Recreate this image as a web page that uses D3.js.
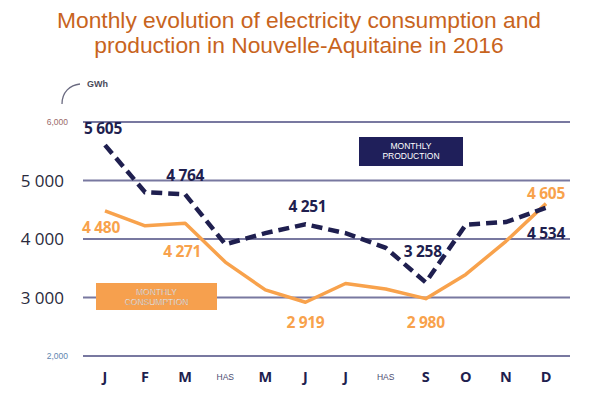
<!DOCTYPE html>
<html><head><meta charset="utf-8">
<script src="https://cdn.jsdelivr.net/npm/d3@7"></script>
<style>body{margin:0;background:#fff;}svg{display:block;}</style>
</head><body>
<svg id="c" width="597" height="398"></svg>
<script>
const months = ["J","F","M","HAS","M","J","J","HAS","S","O","N","D"];
const production = [5605, 4800, 4764, 3910, 4100, 4251, 4100, 3850, 3258, 4245, 4290, 4534];
const consumption = [4480, 4225, 4271, 3605, 3130, 2919, 3240, 3145, 2980, 3395, 3960, 4605];
const yTicks = [6000, 5000, 4000, 3000, 2000];
const yTickLabels = ["6,000", "5 000", "4 000", "3 000", "2,000"];
const prodLabels = [[0,"5 605"],[2,"4 764"],[5,"4 251"],[8,"3 258"],[11,"4 534"]];
const consLabels = [[0,"4 480"],[2,"4 271"],[5,"2 919"],[8,"2 980"],[11,"4 605"]];
const title = ["Monthly evolution of electricity consumption and", "production in Nouvelle-Aquitaine in 2016"];

const navy = "#1f1f4f", orange = "#f8a24c";
const svg = d3.select("#c");
const x = d3.scalePoint().domain(d3.range(12)).range([105, 546]);
const y = d3.scaleLinear().domain([2000, 6000]).range([356, 122]);

// title
svg.selectAll("text.title").data(title).join("text")
  .attr("x", 299).attr("y", (d,i) => 28 + i*25)
  .attr("text-anchor", "middle")
  .attr("font-family", "Liberation Sans, Arial, sans-serif")
  .attr("font-size", 22.8).attr("fill", "#c8641d").text(d => d);

// grid
svg.append("g").selectAll("line").data(yTicks).join("line")
  .attr("x1", 83).attr("x2", 570)
  .attr("y1", d => y(d)).attr("y2", d => y(d))
  .attr("stroke", "#7878a0").attr("stroke-width", 1.8);

// y labels
svg.append("g").selectAll("text").data(yTicks).join("text")
  .attr("x", (d,i) => (i===0||i===4) ? 68 : 64)
  .attr("y", d => y(d) + ((d===6000||d===2000) ? 3 : 6))
  .attr("text-anchor", "end")
  .attr("font-family", (d) => (d===6000||d===2000) ? "Liberation Sans, Arial, sans-serif" : "Open Sans, sans-serif")
  .attr("font-size", d => (d===6000||d===2000) ? 8.5 : 17)
  .attr("fill", d => d===6000 ? "#9a6a6a" : d===2000 ? "#5f86b0" : "#2a2a3c")
  .text((d,i) => yTickLabels[i]);

// GWh unit with arc
svg.append("path").attr("d", "M62,104 C62,92 70,85 80,84")
  .attr("fill", "none").attr("stroke", "#6a6a80").attr("stroke-width", 1.3);
svg.append("text").attr("x", 87).attr("y", 87)
  .attr("font-family", "Liberation Sans, Arial, sans-serif").attr("font-size", 9)
  .attr("font-weight", "bold").attr("fill", "#4a4a5a").text("GWh");

// lines
const line = d3.line().x((d,i) => x(i)).y(d => y(d));
svg.append("path").datum(consumption).attr("d", line)
  .attr("fill", "none").attr("stroke", orange).attr("stroke-width", 3.5)
  .attr("stroke-linejoin", "round");
svg.append("path").datum(production).attr("d", line)
  .attr("fill", "none").attr("stroke", navy).attr("stroke-width", 4.5)
  .attr("stroke-dasharray", "11,6");

// value labels
const prodOff = {0:-11, 2:-13, 5:-12, 8:-25, 11:31};
svg.append("g").selectAll("text").data(prodLabels).join("text")
  .attr("x", d => x(d[0]) + (d[0]===0 ? -2 : d[0]===8 ? -3 : d[0]===5 ? 2 : 0))
  .attr("y", d => y(production[d[0]]) + prodOff[d[0]])
  .attr("text-anchor", "middle")
  .attr("font-family", "Open Sans, sans-serif").attr("font-weight", "bold")
  .attr("font-size", 15.5).attr("letter-spacing", -0.3).attr("fill", navy)
  .text(d => d[1]);
const consOff = {0:22, 2:34, 5:26, 8:29, 11:-5};
svg.append("g").selectAll("text").data(consLabels).join("text")
  .attr("x", d => x(d[0]) + (d[0]===0 ? -4 : d[0]===2 ? -3 : 0))
  .attr("y", d => y(consumption[d[0]]) + consOff[d[0]])
  .attr("text-anchor", "middle")
  .attr("font-family", "Open Sans, sans-serif").attr("font-weight", "bold")
  .attr("font-size", 15.5).attr("letter-spacing", -0.3).attr("fill", orange)
  .text(d => d[1]);

// month labels
svg.append("g").selectAll("text").data(months).join("text")
  .attr("x", (d,i) => x(i)).attr("y", d => d==="HAS" ? 380 : 382)
  .attr("text-anchor", "middle")
  .attr("font-family", d => d==="HAS" ? "Liberation Sans, Arial, sans-serif" : "Open Sans, sans-serif")
  .attr("font-weight", d => d==="HAS" ? "normal" : "bold")
  .attr("font-size", d => d==="HAS" ? 8.5 : 14.5)
  .attr("fill", d => d==="HAS" ? "#4a4a70" : navy)
  .text(d => d);

// legend boxes
const legends = [
  {x:359, y:137, w:104, h:29, fill:"#1f1f5a", t:["MONTHLY","PRODUCTION"], stroke:"none"},
  {x:96, y:283, w:121, h:27, fill:"#f6a04e", t:["MONTHLY","CONSUMPTION"], stroke:"#9a6a40"}
];
legends.forEach(l => {
  const g = svg.append("g");
  g.append("rect").attr("x", l.x).attr("y", l.y).attr("width", l.w).attr("height", l.h).attr("fill", l.fill);
  g.selectAll("text").data(l.t).join("text")
    .attr("x", l.x + l.w/2).attr("y", (d,i) => l.y + 11.5 + i*10.5)
    .attr("text-anchor", "middle")
    .attr("font-family", "Liberation Sans, Arial, sans-serif").attr("font-size", 8.5)
    .attr("fill", "#fff").attr("stroke", l.stroke).attr("stroke-width", 0.2)
    .text(d => d);
});
</script>
</body></html>
